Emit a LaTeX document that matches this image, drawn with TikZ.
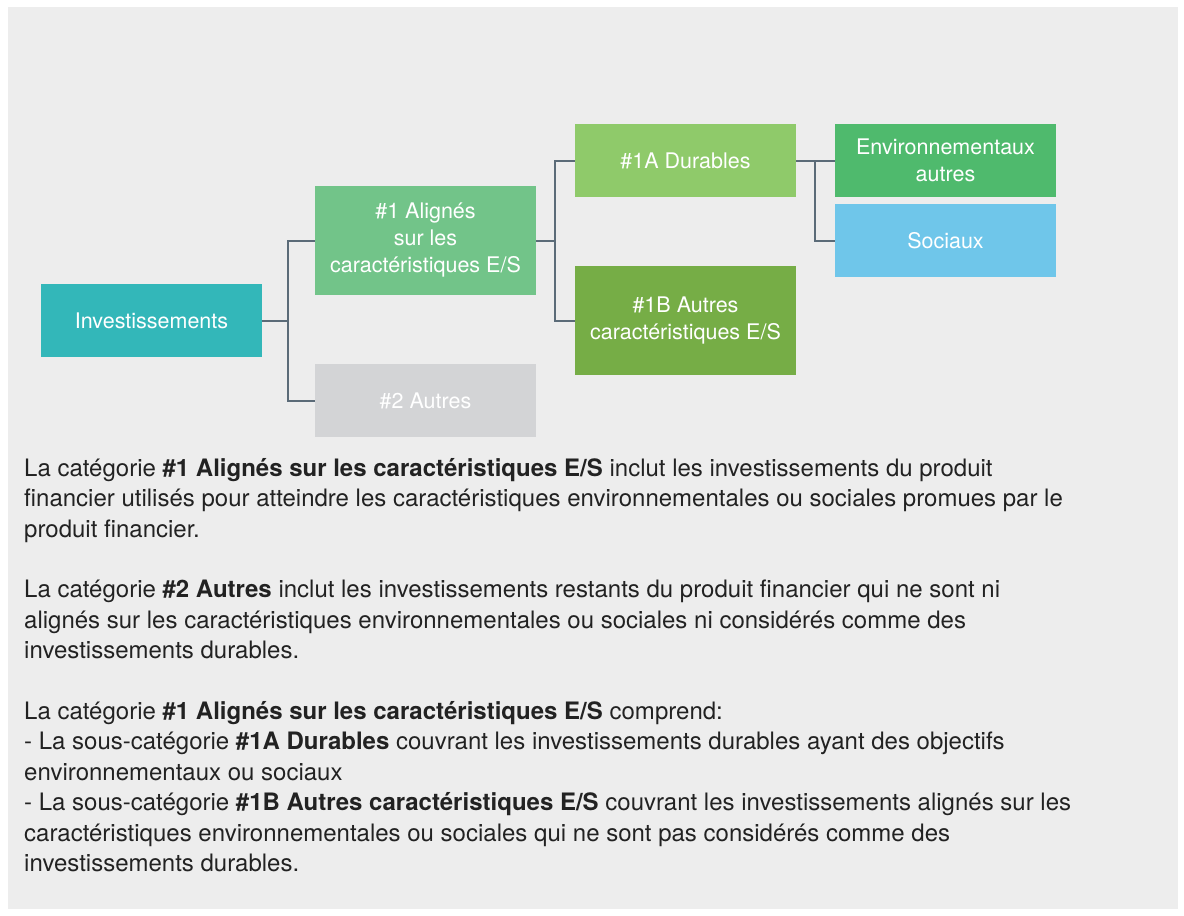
\documentclass[tikz,border=0pt]{standalone}
\usepackage{fontspec}
\setmainfont{TeX Gyre Heros}
\usetikzlibrary{positioning}
\definecolor{panelgray}{HTML}{EDEDED}
\definecolor{linkgray}{HTML}{5B6B78}
\definecolor{invteal}{HTML}{33B7B9}
\definecolor{alignedgreen}{HTML}{72C489}
\definecolor{othergray}{HTML}{D3D4D6}
\definecolor{durgreen}{HTML}{8FCA6A}
\definecolor{esgreen}{HTML}{76AD46}
\definecolor{envgreen}{HTML}{4FBA6D}
\definecolor{socblue}{HTML}{6FC6EA}
\definecolor{bodytext}{HTML}{222222}
\tikzset{
  catbox/.style={inner sep=0pt, minimum width=221pt, minimum height=73pt,
    align=center, text=white, font=\fontsize{21.5}{27}\selectfont},
  tallbox/.style={catbox, minimum height=109pt},
  link/.style={draw=linkgray, line width=2pt},
  bodypar/.style={inner sep=0pt, anchor=north west, align=left,
    text=bodytext, font=\fontsize{24}{30.4}\selectfont}
}
\begin{document}
\begin{tikzpicture}[x=1pt,y=-1pt]
        \useasboundingbox (0,0) rectangle (1184,916);
        \fill[panelgray] (8,7) rectangle (1178,909);
        % categories
        \node[catbox, fill=invteal] (inv) at (151.5,320.5) {Investissements};
        \node[tallbox, fill=alignedgreen] (aligned) at (425.5,240.5) {\#1 Alignés\\sur les\\caractéristiques E/S};
        \node[catbox, fill=othergray] (other) at (425.5,400.5) {\#2 Autres};
        \node[catbox, fill=durgreen] (durable) at (685.5,160.5) {\#1A Durables};
        \node[tallbox, fill=esgreen] (otheres) at (685.5,320.5) {\#1B Autres\\caractéristiques E/S};
        \node[catbox, fill=envgreen] (env) at (945.5,160.5) {Environnementaux\\autres};
        \node[catbox, fill=socblue] (soc) at (945.5,240.5) {Sociaux};
        % connectors
        \coordinate (fork1) at (288,320.5);
        \coordinate (fork2) at (555,240.5);
        \coordinate (fork3) at (815,160.5);
        \draw[link] (inv.east) -- (fork1);
        \draw[link] (fork1) |- (aligned.west);
        \draw[link] (fork1) |- (other.west);
        \draw[link] (aligned.east) -- (fork2);
        \draw[link] (fork2) |- (durable.west);
        \draw[link] (fork2) |- (otheres.west);
        \draw[link] (durable.east) -- (fork3) -- (env.west);
        \draw[link] (fork3) |- (soc.west);
        % description
        \node[bodypar] (desc) at (24,458) {La catégorie \textbf{\#1 Alignés sur les caractéristiques E/S} inclut les investissements du produit\\
financier utilisés pour atteindre les caractéristiques environnementales ou sociales promues par le\\
produit financier.\\[30.4pt]
La catégorie \textbf{\#2 Autres} inclut les investissements restants du produit financier qui ne sont ni\\
alignés sur les caractéristiques environnementales ou sociales ni considérés comme des\\
investissements durables.\\[30.4pt]
La catégorie \textbf{\#1 Alignés sur les caractéristiques E/S} comprend:\\
- La sous-catégorie \textbf{\#1A Durables} couvrant les investissements durables ayant des objectifs\\
environnementaux ou sociaux\\
- La sous-catégorie \textbf{\#1B Autres caractéristiques E/S} couvrant les investissements alignés sur les\\
caractéristiques environnementales ou sociales qui ne sont pas considérés comme des\\
investissements durables.};
      \end{tikzpicture}
\end{document}
